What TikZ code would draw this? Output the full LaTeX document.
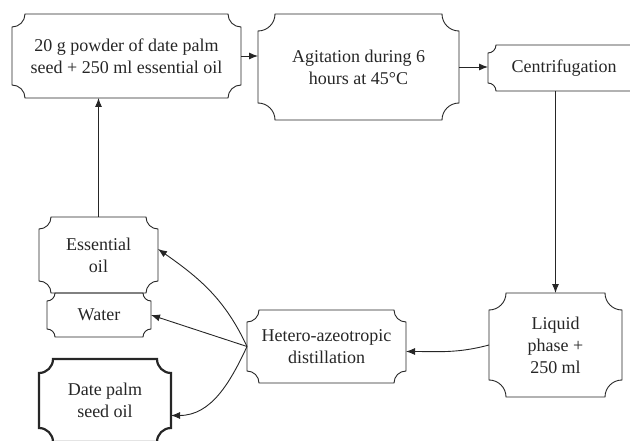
\documentclass[tikz,border=0pt]{standalone}
\usepackage{fontspec}
\setmainfont{Liberation Serif}
\usetikzlibrary{arrows.meta}

\tikzset{box/.style={rectangle, inner sep=0pt, outer sep=0pt, align=center,
    font=\fontsize{18}{22}\selectfont}}

\newcommand{\scoopbox}[3][]{%
  \draw[#1] ([xshift=#3]#2.north west) -- ([xshift=-#3]#2.north east)
    arc[start angle=180, end angle=270, radius=#3]
    -- ([yshift=#3]#2.south east)
    arc[start angle=90, end angle=180, radius=#3]
    -- ([xshift=#3]#2.south west)
    arc[start angle=0, end angle=90, radius=#3]
    -- ([yshift=-#3]#2.north west)
    arc[start angle=270, end angle=360, radius=#3] -- cycle;}

\begin{document}
\begin{tikzpicture}[x=1pt, y=1pt, line width=0.9pt, color=black!85,
                    >={Latex[length=9pt,width=7pt]}]
\useasboundingbox (0,0) rectangle (630,440);
\node[box, minimum width=229pt, minimum height=84pt] (seed) at (126.5,384) {20 g powder of date palm\\seed + 250 ml essential oil};
\node[box, minimum width=201pt, minimum height=106pt] (agit) at (358.5,373) {Agitation during 6\\hours at 45°C};
\node[box, minimum width=152pt, minimum height=46pt] (centri) at (564,372) {Centrifugation};
\node[box, minimum width=133pt, minimum height=104pt] (liquid) at (555.5,95) {Liquid\\phase +\\250 ml};
\node[box, minimum width=159pt, minimum height=73pt] (hetero) at (326.5,93.5) {Hetero-azeotropic\\distillation};
\node[box, minimum width=119pt, minimum height=76pt] (essential) at (98.5,185) {Essential\\oil};
\node[box, minimum width=104pt, minimum height=44pt] (water) at (99,125) {Water};
\node[box, minimum width=132pt, minimum height=83pt] (datepalm) at (105,39.5) {Date palm\\seed oil};

\scoopbox{seed}{13pt}
\scoopbox{agit}{17pt}
\scoopbox{centri}{8pt}
\scoopbox{liquid}{17pt}
\scoopbox{hetero}{12pt}
\scoopbox{essential}{12pt}
\scoopbox{water}{8pt}
\scoopbox[line width=2.2pt]{datepalm}{14pt}

\draw[->] (seed.east) to (seed.east -| agit.west);
\draw[->] (agit.east) to (agit.east -| centri.west);
\draw[->] (centri.south -| liquid.north) to (liquid.north);
\draw[->] (liquid.west) to [out=195, in=0] ([yshift=-5pt]hetero.east);
\draw[->] (essential.north) to (essential.north |- seed.south);
\draw[->] (hetero.west) to [out=115, in=-35] ([yshift=6pt]essential.east);
\draw[->] (hetero.west) to (water.east);
\draw[->] (hetero.west) to [out=245, in=0] ([yshift=-15pt]datepalm.east);

\end{tikzpicture}
\end{document}
